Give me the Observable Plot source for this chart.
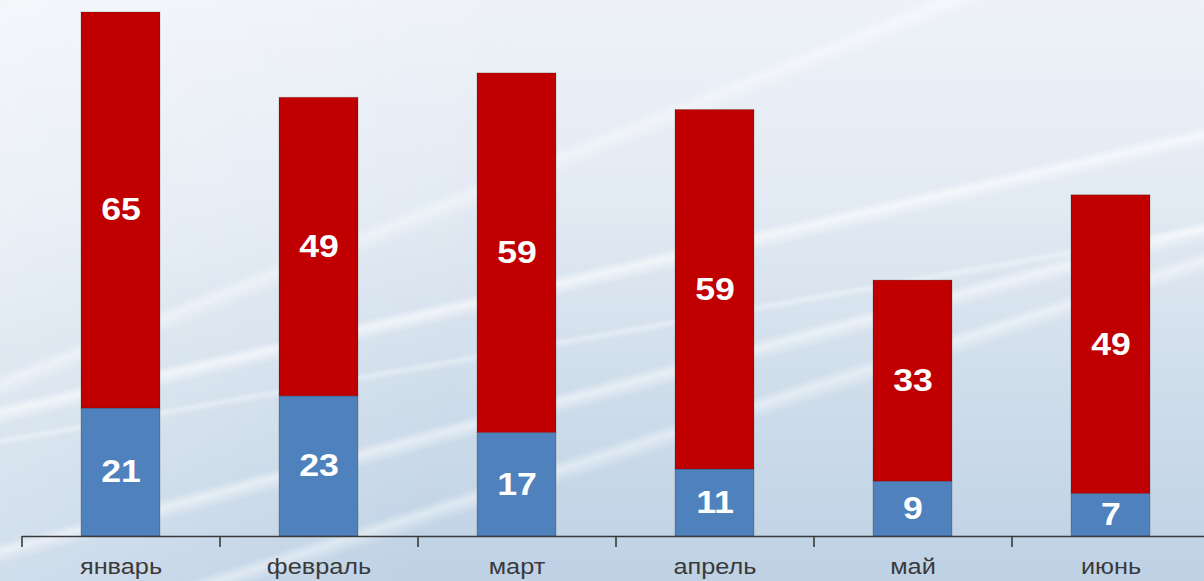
<!DOCTYPE html>
<html>
<head>
<meta charset="utf-8">
<script src="https://cdn.jsdelivr.net/npm/d3@7"></script>
<script src="https://cdn.jsdelivr.net/npm/@observablehq/plot@0.6"></script>
<style>
  html, body { margin: 0; padding: 0; overflow: hidden; width: 1204px; height: 581px; }
  body {
    background:
      linear-gradient(167deg, rgba(255,255,255,0) 47%, rgba(255,255,255,0.6) 48%, rgba(255,255,255,0) 49.5%),
      linear-gradient(165deg, rgba(255,255,255,0) 60%, rgba(255,255,255,0.5) 61%, rgba(255,255,255,0) 62.5%),
      linear-gradient(162deg, rgba(255,255,255,0) 66%, rgba(255,255,255,0.45) 67%, rgba(255,255,255,0) 68.5%),
      linear-gradient(158deg, rgba(255,255,255,0) 35%, rgba(255,255,255,0.4) 36%, rgba(255,255,255,0) 37.5%),
      linear-gradient(170deg, rgba(255,255,255,0) 55%, rgba(255,255,255,0.35) 55.6%, rgba(255,255,255,0) 56.4%),
      linear-gradient(100deg, rgba(255,255,255,0.35) 0%, rgba(255,255,255,0) 40%),
      linear-gradient(180deg, #eef2f8 0%, #e2eaf3 35%, #cddcea 70%, #bed1e5 100%);
  }
  #chart { position: absolute; left: 0; top: 0; }
</style>
</head>
<body>
<div id="chart"></div>
<script>
const months = ["январь", "февраль", "март", "апрель", "май", "июнь"];
const blueValues = [21, 23, 17, 11, 9, 7];
const redValues = [65, 49, 59, 59, 33, 49];
const seriesNames = ["нижний", "верхний"];
const seriesColors = ["#4f81bd", "#c00000"];

const rows = [
  ...months.map((m, i) => ({month: m, series: seriesNames[0], value: blueValues[i]})),
  ...months.map((m, i) => ({month: m, series: seriesNames[1], value: redValues[i]}))
];

const W = 1210, H = 581, mL = 22, mR = 0, mT = 12, mB = 45;
const step = (W - mL - mR) / months.length;
const font = "Arial, 'Liberation Sans', sans-serif";

const chart = Plot.plot({
  width: W,
  height: H,
  marginLeft: mL,
  marginRight: mR,
  marginTop: mT,
  marginBottom: mB,
  style: {background: "transparent", maxWidth: "none", overflow: "visible", fontFamily: font},
  x: {domain: months, paddingInner: 0.6, paddingOuter: 0.3, label: null},
  y: {domain: [0, d3.sum([blueValues[0], redValues[0]])], axis: null},
  color: {domain: seriesNames, range: seriesColors},
  marks: [
    Plot.barY(rows, {x: "month", y: "value", fill: "series", z: "series",
      stroke: "#000", strokeOpacity: 0.18, strokeWidth: 1}),
    Plot.text(rows, Plot.stackY({x: "month", y: "value", z: "series", text: d => String(d.value),
      fill: "white", fontSize: 31, fontWeight: "bold", fontFamily: font, className: "val"})),
    Plot.ruleY([0], {stroke: "#3a3a3a", strokeWidth: 1.6}),
    Plot.axisX({tickSize: 11, tickFormat: () => "", dx: -step / 2, stroke: "#3a3a3a", strokeWidth: 1.6}),
    Plot.axisX({tickSize: 0, tickPadding: 22, fontSize: 22, fill: "#3a3a3a", fontFamily: font, label: null})
  ]
});

chart.querySelectorAll("text").forEach(t => {
  const tr = t.getAttribute("transform");
  if (tr) t.setAttribute("transform", tr + " scale(1.15,1)");
});

document.getElementById("chart").appendChild(chart);
</script>
</body>
</html>
